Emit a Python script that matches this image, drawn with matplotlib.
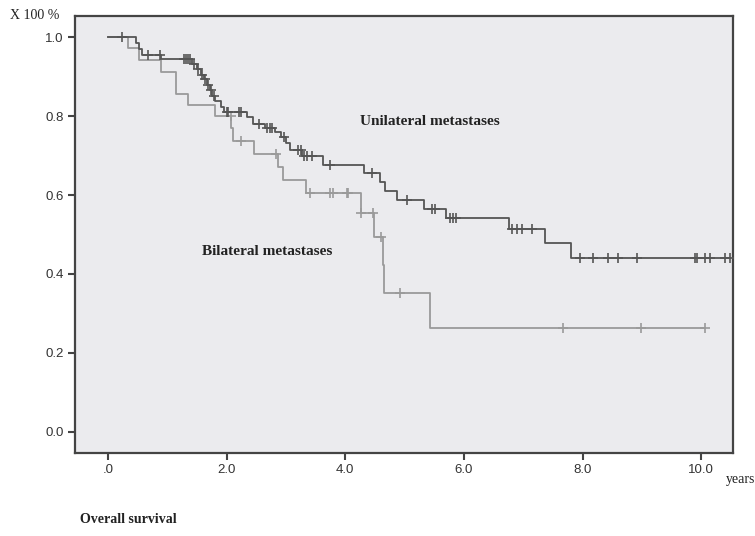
#!/usr/bin/env python3

import numpy as np
import matplotlib.pyplot as plt

# Kaplan-Meier steps (time in years, survival fraction)
uni_times = [0.0, 0.47, 0.52, 0.57, 0.90, 1.42, 1.50, 1.56, 1.62, 1.67, 1.72, 1.76,
             1.81, 1.90, 1.95, 2.34, 2.45, 2.65, 2.82, 2.92, 3.00, 3.06, 3.27, 3.62,
             4.31, 4.58, 4.67, 4.87, 5.33, 5.70, 6.76, 7.36, 7.81]
uni_surv = [1.0, 0.985, 0.970, 0.955, 0.944, 0.932, 0.920, 0.905, 0.893, 0.878, 0.866, 0.850,
            0.838, 0.824, 0.811, 0.797, 0.781, 0.770, 0.759, 0.748, 0.731, 0.714, 0.699, 0.676,
            0.655, 0.632, 0.610, 0.587, 0.565, 0.541, 0.513, 0.478, 0.440]
uni_censor = [0.23, 0.68, 0.88, 1.28, 1.31, 1.35, 1.39, 1.45, 1.52, 1.58, 1.64, 1.69, 1.74,
              1.79, 2.00, 2.03, 2.21, 2.25, 2.54, 2.68, 2.73, 2.76, 2.96, 3.21, 3.25, 3.30,
              3.35, 3.44, 3.74, 4.45, 5.04, 5.46, 5.51, 5.77, 5.82, 5.87, 6.81, 6.89, 6.97,
              7.14, 7.96, 8.18, 8.42, 8.59, 8.92, 9.90, 9.93, 10.07, 10.14, 10.40, 10.48]

bil_times = [0.0, 0.34, 0.53, 0.90, 1.15, 1.35, 1.80, 2.08, 2.11, 2.46, 2.87, 2.95,
             3.34, 4.26, 4.49, 4.63, 4.66, 5.42]
bil_surv = [1.0, 0.971, 0.943, 0.912, 0.856, 0.828, 0.800, 0.769, 0.737, 0.705, 0.672, 0.638,
            0.604, 0.555, 0.493, 0.423, 0.351, 0.263]
bil_censor = [2.07, 2.24, 2.84, 3.41, 3.74, 3.80, 4.03, 4.05, 4.26, 4.47, 4.61, 4.92,
              7.67, 8.98, 10.07]

x_ticks = [0, 2, 4, 6, 8, 10]
x_labels = [".0", "2.0", "4.0", "6.0", "8.0", "10.0"]
y_ticks = [0.0, 0.2, 0.4, 0.6, 0.8, 1.0]
y_labels = ["0.0", "0.2", "0.4", "0.6", "0.8", "1.0"]


def km_curve(ax, times, surv, censor, color):
    end = max(max(censor), times[-1])
    t = list(times) + [end]
    s = list(surv) + [surv[-1]]
    ax.step(t, s, where="post", color=color, lw=1.3, zorder=3)
    # censor marks sit on the curve value at their time
    idx = np.searchsorted(times, censor, side="right") - 1
    ax.plot(censor, np.array(surv)[idx], ls="none", marker="+", ms=7, mew=1.2,
            color=color, zorder=4)


fig = plt.figure(figsize=(7.55, 5.36), dpi=100)
ax = fig.add_axes([0.0993, 0.155, 0.872, 0.815])
ax.set_facecolor("#ebebee")

km_curve(ax, bil_times, bil_surv, bil_censor, "#9a9a9a")
km_curve(ax, uni_times, uni_surv, uni_censor, "#555555")

ax.set_xlim(-0.556, 10.54)
ax.set_ylim(-0.053, 1.053)
ax.set_xticks(x_ticks)
ax.set_xticklabels(x_labels, family="Liberation Sans", fontsize=9.5, color="#333333")
ax.set_yticks(y_ticks)
ax.set_yticklabels(y_labels, family="Liberation Sans", fontsize=9.5, color="#333333")
ax.tick_params(direction="out", length=5, width=1.5, color="#444444", pad=3)
for sp in ax.spines.values():
    sp.set_color("#444444")
    sp.set_linewidth(1.6)

serif = "Liberation Serif"
ax.text(5.43, 0.785, "Unilateral metastases", family=serif, fontweight="bold",
        fontsize=11, color="#222222", ha="center", va="center")
ax.text(2.68, 0.458, "Bilateral metastases", family=serif, fontweight="bold",
        fontsize=11, color="#222222", ha="center", va="center")

fig.text(0.013, 0.972, "X 100 %", family=serif, fontsize=10, color="#222222",
         ha="left", va="center")
fig.text(0.962, 0.105, "years", family=serif, fontsize=10, color="#222222",
         ha="left", va="center")
fig.text(0.106, 0.030, "Overall survival", family=serif, fontweight="bold",
         fontsize=10, color="#222222", ha="left", va="center")

fig.savefig("out.png", dpi=100)
